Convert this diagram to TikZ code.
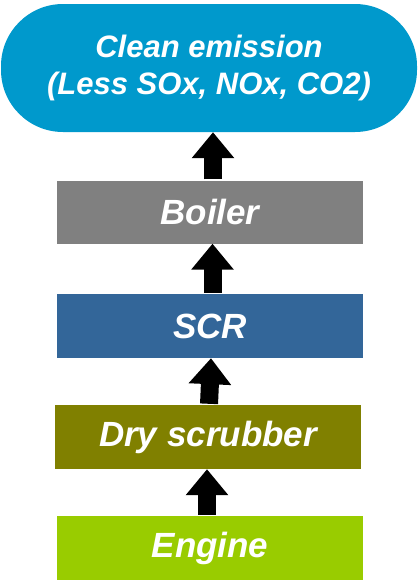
\documentclass[tikz,border=0pt]{standalone}
\usepackage{fontspec}
\setmainfont{Liberation Sans}
\usepackage{tikz}
\usetikzlibrary{arrows.meta,positioning}
\definecolor{emisblue}{HTML}{0099CC}
\definecolor{boilgray}{HTML}{808080}
\definecolor{scrblue}{HTML}{336699}
\definecolor{dryolive}{HTML}{808000}
\definecolor{enggreen}{HTML}{99CC00}
\tikzset{
  stage/.style={rectangle,inner sep=0pt,minimum width=306pt,minimum height=63pt,
    text=white,font=\fontsize{35}{40}\selectfont\bfseries\itshape},
  flow/.style={line width=18pt,-{Triangle[width=41pt,length=26pt]},shorten <=1pt}
}
\begin{document}
\begin{tikzpicture}[x=1pt,y=1pt]
\useasboundingbox (0,0) rectangle (418,-584);
\node[stage,fill=emisblue,minimum width=416pt,minimum height=128pt,rounded corners=62pt,
  align=center,font=\fontsize{31}{37.5}\selectfont\bfseries\itshape]
  (clean) at (209,-68) {Clean emission\\(Less SOx, NOx, CO2)};
\node[stage,fill=boilgray] (boiler) at (210,-212) {Boiler};
\node[stage,fill=scrblue,minimum height=64pt] (scr) at (210,-326) {SCR};
\node[stage,fill=dryolive,minimum height=64pt] (dry) at (208,-437) {Dry scrubber};
\node[stage,fill=enggreen,minimum height=64pt] (engine) at (210,-548) {Engine};
\draw[flow] ([xshift=-3pt]engine.north) -- ([xshift=-1pt]dry.south);
\draw[flow] ([xshift=1pt]dry.north) -- ([xshift=1pt]scr.south);
\draw[flow] ([xshift=2.5pt]scr.north) -- ([xshift=2.5pt]boiler.south);
\draw[flow] ([xshift=3pt]boiler.north) -- ([xshift=4pt]clean.south);
\end{tikzpicture}
\end{document}
